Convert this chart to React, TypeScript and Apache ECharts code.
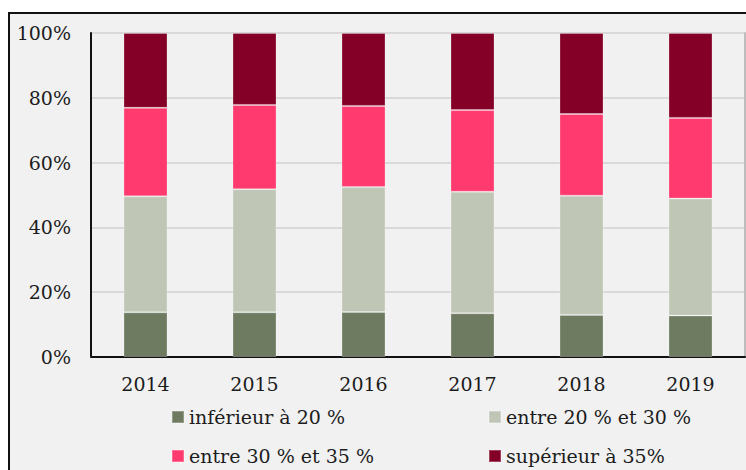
import React, { useEffect, useRef } from "react";
import * as echarts from "echarts";

const years = ["2014", "2015", "2016", "2017", "2018", "2019"];
const seriesNames = [
  "inférieur à 20 %",
  "entre 20 % et 30 %",
  "entre 30 % et 35 %",
  "supérieur à 35%",
];
const below20 = [13.8, 13.8, 13.9, 13.5, 13.0, 12.8];
const from20to30 = [35.8, 38.0, 38.6, 37.5, 36.8, 36.1];
const from30to35 = [27.3, 26.0, 25.0, 25.2, 25.2, 24.9];
const above35 = [23.1, 22.2, 22.5, 23.8, 25.0, 26.2];
const yTicks = [0, 20, 40, 60, 80, 100];

const colors = ["#6e7b61", "#c0c6b6", "#ff3a6e", "#850026"];
const FONT = "DejaVu Serif";
const legendSpots = [
  { left: 166, top: 401 },
  { left: 483, top: 401 },
  { left: 166, top: 440 },
  { left: 483, top: 440 },
];

export default function App() {
  const ref = useRef<HTMLDivElement>(null);
  useEffect(() => {
    if (!ref.current) return;
    const chart = echarts.init(ref.current, null, { renderer: "svg" });
    const values = [below20, from20to30, from30to35, above35];
    chart.setOption({
      animation: false,
      backgroundColor: "#ffffff",
      color: colors,
      graphic: [
        {
          type: "rect",
          z: -10,
          silent: true,
          shape: { x: 9, y: 13, width: 800, height: 500 },
          style: { fill: "#f1f1f1", stroke: "#111", lineWidth: 2 },
        },
      ],
      grid: { left: 91, top: 33, right: 1, bottom: 113, containLabel: false },
      legend: seriesNames.map((name, k) => ({
        data: [name],
        orient: "horizontal",
        left: legendSpots[k].left,
        top: legendSpots[k].top,
        itemWidth: 12,
        itemHeight: 12,
        icon: "rect",
        textStyle: { fontFamily: FONT, fontSize: 19, color: "#1c1c1c", lineHeight: 22 },
      })),
      xAxis: [
        {
          type: "category",
          data: years,
          axisLine: { show: true, lineStyle: { color: "#d6d6d6", width: 2 } },
          axisTick: { show: false },
          axisLabel: { fontFamily: FONT, fontSize: 19, color: "#1c1c1c", margin: 17 },
        },
        {
          type: "category",
          data: years,
          position: "top",
          axisLine: { show: true, lineStyle: { color: "#111", width: 2 } },
          axisTick: { show: false },
          axisLabel: { show: false },
        },
      ],
      yAxis: [
        {
          type: "value",
          min: yTicks[0],
          max: yTicks[yTicks.length - 1],
          interval: 20,
          axisLine: { show: true, lineStyle: { color: "#111", width: 2 } },
          axisTick: { show: false },
          splitLine: { lineStyle: { color: "#d9d9d9", width: 2 } },
          axisLabel: {
            fontFamily: FONT,
            fontSize: 19,
            color: "#1c1c1c",
            margin: 20,
            formatter: "{value}%",
          },
        },
        {
          type: "value",
          position: "right",
          min: yTicks[0],
          max: yTicks[yTicks.length - 1],
          interval: 20,
          axisLine: { show: true, lineStyle: { color: "#bdbdbd", width: 2 } },
          axisTick: { show: false },
          splitLine: { show: false },
          axisLabel: { show: false },
        },
      ],
      series: seriesNames.map((name, i) => ({
        name,
        type: "bar",
        stack: "total",
        barWidth: 44,
        data: values[i],
        itemStyle: { color: colors[i], borderColor: "rgba(255,255,255,0.25)", borderWidth: 1 },
      })),
    });
    return () => chart.dispose();
  }, []);
  return <div ref={ref} style={{ width: 746, height: 470, position: "absolute", left: 0, top: 0 }} />;
}
